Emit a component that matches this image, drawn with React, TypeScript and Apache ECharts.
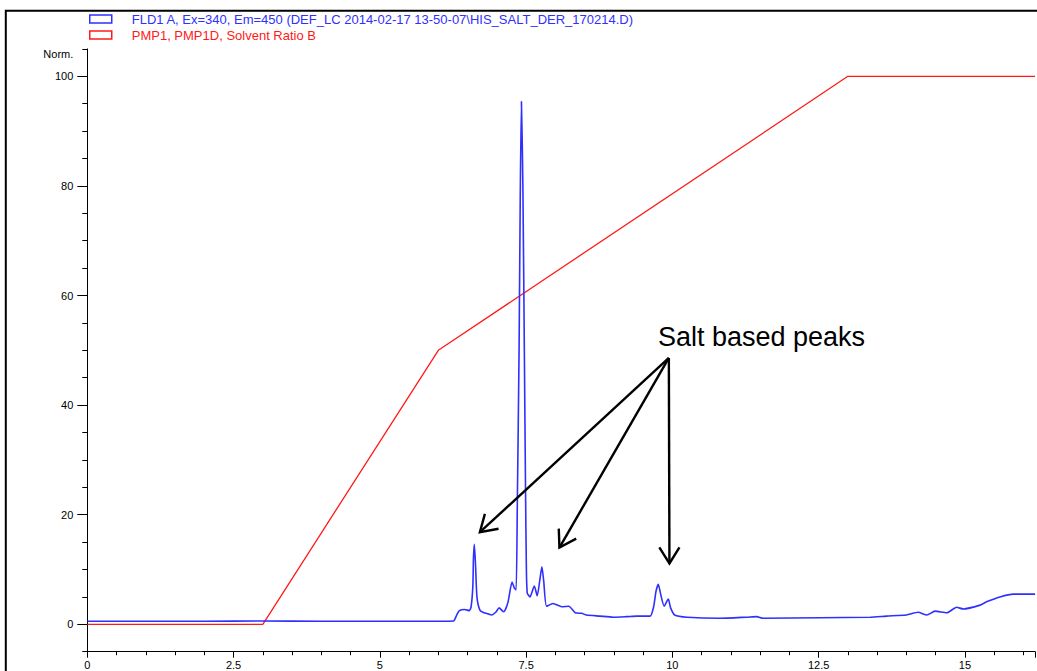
import { useEffect, useRef } from "react";
import * as echarts from "echarts";

// Fluorescence detector trace (retention time in min, normalised signal)
const fldTime = [
  0, 1.0, 2.0, 3.0, 4.0, 5.0, 6.0, 6.26, 6.31, 6.36, 6.45, 6.53, 6.56, 6.59, 6.6, 6.615, 6.635, 6.66, 6.71,
  6.78, 6.85, 6.91, 6.98, 7.04, 7.09, 7.12, 7.19, 7.26, 7.3, 7.33, 7.35, 7.38, 7.4, 7.42, 7.445, 7.47,
  7.49, 7.505, 7.52, 7.566, 7.64, 7.69, 7.74, 7.77, 7.8, 7.85, 7.96, 8.11, 8.23, 8.34, 8.45, 8.53, 8.76,
  8.99, 9.22, 9.39, 9.62, 9.68, 9.72, 9.76, 9.8, 9.86, 9.93, 9.97, 10.04, 10.25, 10.81, 11.27, 11.44,
  11.55, 12.52, 13.38, 13.66, 14.0, 14.2, 14.35, 14.49, 14.69, 14.86, 14.97, 15.26, 15.37, 15.6, 15.83,
  16.2,
];
const fldSignal = [
  0.55, 0.55, 0.55, 0.6, 0.55, 0.55, 0.55, 0.6, 1.6, 2.5, 2.7, 2.5, 3.2, 7.0, 12.0, 14.6, 11.0, 5.0, 2.6,
  2.1, 1.9, 1.7, 2.2, 3.0, 2.5, 2.3, 4.0, 7.7, 6.6, 6.3, 22, 50, 78, 95.4, 80, 50,
  25, 10, 5.7, 5.0, 7.0, 5.2, 8.5, 10.5, 8.0, 3.3, 3.8, 3.2, 3.3, 2.1, 2.0, 1.7, 1.5,
  1.3, 1.4, 1.5, 1.5, 3.2, 6.0, 7.3, 5.5, 3.3, 4.6, 3.0, 1.7, 1.3, 1.1, 1.3, 1.4,
  1.1, 1.2, 1.3, 1.5, 1.7, 2.2, 1.7, 2.4, 2.1, 3.1, 2.8, 3.5, 4.1, 5.0, 5.5,
  5.5,
];

// Pump gradient programme (% solvent B)
const solventTime = [0, 3, 6, 13, 16.2];
const solventRatio = [0, 0, 50, 100, 100];

const xLabelValues = [0, 2.5, 5, 7.5, 10, 12.5, 15];
const yLabelValues = [0, 20, 40, 60, 80, 100];

const FLD_NAME = "FLD1 A, Ex=340, Em=450 (DEF_LC 2014-02-17 13-50-07\\HIS_SALT_DER_170214.D)";
const PMP_NAME = "PMP1, PMP1D, Solvent Ratio B";

// Callout, in data coordinates
const calloutText = "Salt based peaks";
const calloutTextAt = [9.754, 52.4];
const calloutOrigin = [9.94, 48.6];
const calloutTargets = [
  [6.71, 16.8],
  [8.07, 14.0],
  [9.95, 11.1],
];

const FONT = "'Liberation Sans', Arial, sans-serif";
const BLUE = "#2f2fff";
const RED = "#ff1a1a";

const X_MIN = 0;
const X_MAX = 16.2;
const Y_MIN = -5;
const Y_MAX = 105;

export default function App() {
  const ref = useRef<HTMLDivElement>(null);

  useEffect(() => {
    if (!ref.current) return;
    const chart = echarts.init(ref.current, null, { renderer: "svg" });

    const W = 1037;
    const H = 671;
    const gLeft = 87.3;
    const gRight = 1.9;
    const gTop = 48.9;
    const gBottom = 19.3;
    const unitPx = (H - gTop - gBottom) / (Y_MAX - Y_MIN);
    // second grid spanning 0..100 only, used for the long labelled ticks
    const g2Top = gTop + (Y_MAX - 100) * unitPx;
    const g2Bottom = gBottom + (0 - Y_MIN) * unitPx;

    const xFmt = (v: number) => (xLabelValues.some((l) => Math.abs(l - v) < 1e-6) ? String(v) : "");
    const yFmt = (v: number) => {
      if (Math.abs(v - Y_MAX) < 1e-6) return "{n|Norm.}";
      return yLabelValues.some((l) => Math.abs(l - v) < 1e-6) ? String(v) : "";
    };

    const axisBlack = { color: "#000", width: 1 };

    const option: any = {
      animation: false,
      backgroundColor: "#fff",
      textStyle: { fontFamily: FONT },
      legend: {
        orient: "vertical",
        left: 89,
        top: 12,
        padding: 0,
        icon: "rect",
        itemWidth: 22,
        itemHeight: 8,
        itemGap: 2,
        selectedMode: false,
        textStyle: { fontFamily: FONT, fontSize: 13, lineHeight: 14, padding: [0, 0, 0, 15] },
        data: [
          {
            name: FLD_NAME,
            itemStyle: { color: "#fff", borderColor: BLUE, borderWidth: 1.5 },
            textStyle: { color: BLUE },
          },
          {
            name: PMP_NAME,
            itemStyle: { color: "#fff", borderColor: RED, borderWidth: 1.5 },
            textStyle: { color: RED },
          },
        ],
      },
      grid: [
        { left: gLeft, right: gRight, top: gTop, bottom: gBottom },
        { left: gLeft, right: gRight, top: g2Top, bottom: g2Bottom },
      ],
      xAxis: [
        {
          type: "value",
          gridIndex: 0,
          min: X_MIN,
          max: X_MAX,
          interval: 0.5,
          axisLine: { show: true, onZero: false, lineStyle: axisBlack },
          axisTick: { show: true, length: 3.5, lineStyle: axisBlack },
          axisLabel: { formatter: xFmt, color: "#000", fontSize: 11, margin: 8, fontFamily: FONT, showMaxLabel: false },
          splitLine: { show: false },
        },
        {
          type: "value",
          gridIndex: 0,
          position: "bottom",
          min: X_MIN,
          max: X_MAX,
          interval: 2.5,
          axisLine: { show: false, onZero: false },
          axisTick: { show: true, length: 6, lineStyle: axisBlack },
          axisLabel: { show: false },
          splitLine: { show: false },
        },
        {
          type: "value",
          gridIndex: 1,
          min: X_MIN,
          max: X_MAX,
          show: false,
        },
      ],
      yAxis: [
        {
          type: "value",
          gridIndex: 0,
          min: Y_MIN,
          max: Y_MAX,
          interval: 5,
          axisLine: { show: true, onZero: false, lineStyle: axisBlack },
          axisTick: { show: true, length: 5, lineStyle: axisBlack },
          axisLabel: {
            formatter: yFmt,
            color: "#000",
            fontSize: 11,
            margin: 14,
            fontFamily: FONT,
            rich: { n: { fontSize: 11, color: "#000", fontFamily: FONT, padding: [10, 0, 0, 0] } },
          },
          splitLine: { show: false },
        },
        {
          type: "value",
          gridIndex: 1,
          min: 0,
          max: 100,
          interval: 20,
          axisLine: { show: false, onZero: false },
          axisTick: { show: true, length: 10, lineStyle: axisBlack },
          axisLabel: { show: false },
          splitLine: { show: false },
        },
      ],
      series: [
        {
          name: PMP_NAME,
          type: "line",
          xAxisIndex: 0,
          yAxisIndex: 0,
          data: solventTime.map((t, i) => [t, solventRatio[i]]),
          showSymbol: false,
          symbol: "none",
          lineStyle: { color: RED, width: 1.3 },
          itemStyle: { color: RED },
          z: 2,
        },
        {
          name: FLD_NAME,
          type: "line",
          xAxisIndex: 0,
          yAxisIndex: 0,
          data: fldTime.map((t, i) => [t, fldSignal[i]]),
          showSymbol: false,
          symbol: "none",
          smooth: 0.2,
          lineStyle: { color: BLUE, width: 1.6 },
          itemStyle: { color: BLUE },
          z: 3,
        },
      ],
    };

    chart.setOption(option);

    // Callout arrows and text, placed from data coordinates
    const toPx = (p: number[]) => chart.convertToPixel({ seriesIndex: 0 }, p) as number[];
    const origin = toPx(calloutOrigin);
    const textPos = toPx(calloutTextAt);
    const headLen = 19;
    const half = (32 * Math.PI) / 180;
    const arrows: any[] = [];
    calloutTargets.forEach((target) => {
      const tip = toPx(target);
      const ang = Math.atan2(origin[1] - tip[1], origin[0] - tip[0]);
      arrows.push({
        type: "line",
        silent: true,
        shape: { x1: origin[0], y1: origin[1], x2: tip[0], y2: tip[1] },
        style: { stroke: "#000", lineWidth: 2.4 },
        z: 10,
      });
      arrows.push({
        type: "polyline",
        silent: true,
        shape: {
          points: [
            [tip[0] + headLen * Math.cos(ang + half), tip[1] + headLen * Math.sin(ang + half)],
            [tip[0], tip[1]],
            [tip[0] + headLen * Math.cos(ang - half), tip[1] + headLen * Math.sin(ang - half)],
          ],
        },
        style: { stroke: "#000", lineWidth: 2.4, fill: null, lineJoin: "miter" },
        z: 10,
      });
    });

    chart.setOption({
      graphic: [
        {
          type: "rect",
          silent: true,
          shape: { x: 5.8, y: 10.8, width: W + 100, height: H + 100 },
          style: { fill: null, stroke: "#000", lineWidth: 2 },
          z: 1,
        },
        ...arrows,
        {
          type: "text",
          silent: true,
          x: textPos[0],
          y: textPos[1],
          style: {
            text: calloutText,
            fontSize: 27,
            fontFamily: FONT,
            fill: "#000",
            align: "left",
            verticalAlign: "middle",
          },
          z: 10,
        },
      ],
    });

    return () => chart.dispose();
  }, []);

  return (
    <div
      ref={ref}
      style={{ position: "fixed", left: 0, top: 0, width: 1037, height: 671, background: "#fff" }}
    />
  );
}
